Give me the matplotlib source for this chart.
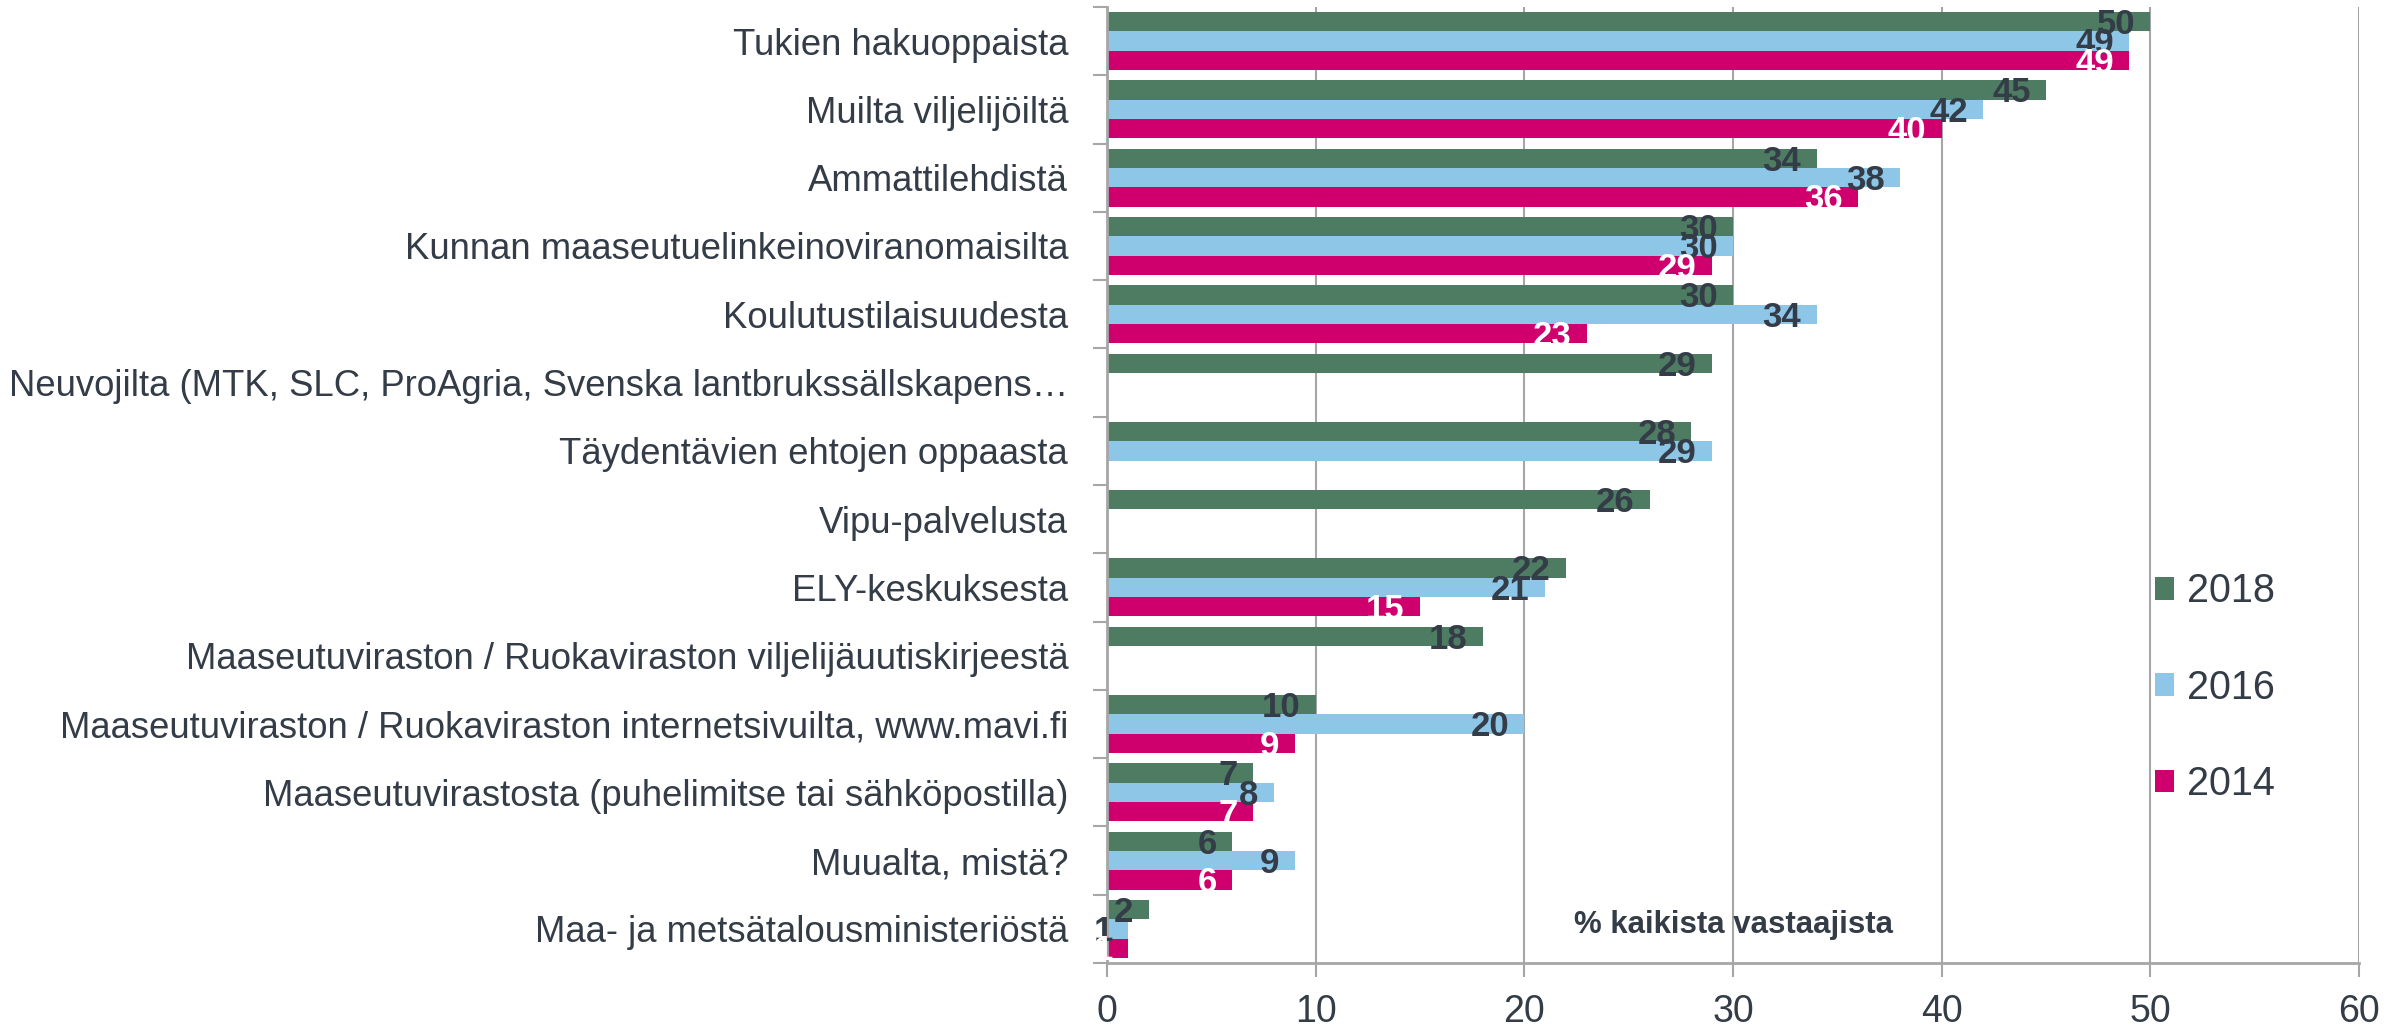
import numpy as np
import matplotlib.pyplot as plt
from matplotlib.patches import Patch

plt.rcParams['font.family'] = ['Liberation Sans', 'DejaVu Sans']

# 資料
categories = [
    'Tukien hakuoppaista',
    'Muilta viljelijöiltä',
    'Ammattilehdistä',
    'Kunnan maaseutuelinkeinoviranomaisilta',
    'Koulutustilaisuudesta',
    'Neuvojilta (MTK, SLC, ProAgria, Svenska lantbrukssällskapens…',
    'Täydentävien ehtojen oppaasta',
    'Vipu-palvelusta',
    'ELY-keskuksesta',
    'Maaseutuviraston / Ruokaviraston viljelijäuutiskirjeestä',
    'Maaseutuviraston / Ruokaviraston internetsivuilta, www.mavi.fi',
    'Maaseutuvirastosta (puhelimitse tai sähköpostilla)',
    'Muualta, mistä?',
    'Maa- ja metsätalousministeriöstä',
]
v2018 = [50, 45, 34, 30, 30, 29, 28, 26, 22, 18, 10, 7, 6, 2]
v2016 = [49, 42, 38, 30, 34, None, 29, None, 21, None, 20, 8, 9, 1]
v2014 = [49, 40, 36, 29, 23, None, None, None, 15, None, 9, 7, 6, 1]
years = ['2018', '2016', '2014']
xticks = [0, 10, 20, 30, 40, 50, 60]

colors = ['#4e7c62', '#8ec6e8', '#cf006d']
txt_colors = ['#333c47', '#333c47', 'white']
dark = '#333c47'
gridc = '#a6a6a6'

fig = plt.figure(figsize=(24.02, 10.26), dpi=100)
ax = fig.add_axes([0.4609, 0.0614, 0.9821 - 0.4609, 0.9932 - 0.0614])

y = np.arange(len(categories))
w = 0.283

for i, (vals, c, tc) in enumerate(zip([v2018, v2016, v2014], colors, txt_colors)):
    off = (i - 1) * w
    for j, v in enumerate(vals):
        if v is None:
            continue
        ax.barh(y[j] + off, v, height=w, color=c, zorder=2)
        ax.annotate(str(v), (v, y[j] + off), xytext=(-11, -2), textcoords='offset points',
                    ha='right', va='center', fontsize=25, fontweight='bold', color=tc, zorder=4)

# 座標軸
ax.set_xlim(0, 60)
ax.set_ylim(len(categories) - 0.5, -0.5)
ax.set_xticks(xticks)
ax.set_yticks(y)
ax.set_yticklabels(categories, fontsize=26.3, color=dark)
ax.set_yticks(np.arange(len(categories) + 1) - 0.5, minor=True)
ax.tick_params(axis='y', which='major', length=0, pad=28)
ax.tick_params(axis='y', which='minor', length=10, width=1.5, color=gridc)
ax.tick_params(axis='x', length=10, width=1.5, color=gridc, labelsize=27, labelcolor=dark, pad=12)

ax.grid(axis='x', color=gridc, linewidth=1.5, zorder=0)
ax.set_axisbelow(True)
for s in ['top', 'right']:
    ax.spines[s].set_visible(False)
for s in ['left', 'bottom']:
    ax.spines[s].set_color(gridc)
    ax.spines[s].set_linewidth(2)

ax.text(30, 12.95, '% kaikista vastaajista', ha='center', va='center',
        fontsize=22.5, fontweight='bold', color=dark)

handles = [Patch(facecolor=c, label=yr) for c, yr in zip(colors, years)]
ax.legend(handles=handles, loc='center left', bbox_to_anchor=(0.821, 0.288), frameon=False,
          fontsize=28.5, labelcolor=dark, labelspacing=1.47, handlelength=0.5,
          handleheight=0.5, handletextpad=0.32, borderpad=0)

fig.savefig('out.png', dpi=100)
